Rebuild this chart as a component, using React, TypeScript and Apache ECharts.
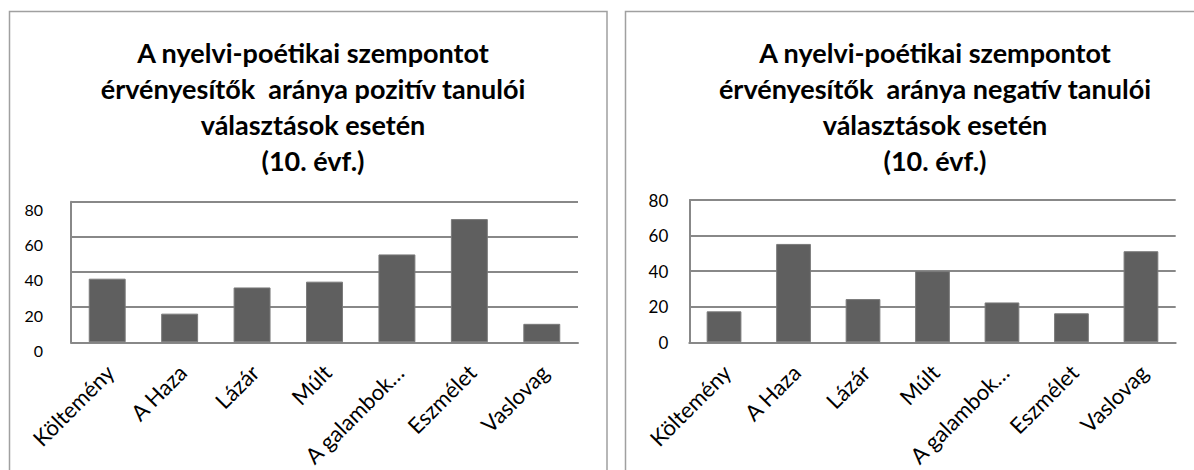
import { useEffect, useRef } from "react";
import * as echarts from "echarts";

const categories = ["Költemény", "A Haza", "Lázár", "Múlt", "A galambok…", "Eszmélet", "Vaslovag"];
const positiveValues = [36.2, 16.3, 31.2, 34.5, 50.0, 70.1, 10.5];
const negativeValues = [17.4, 55.3, 24.3, 40.0, 22.4, 16.3, 51.2];
const yMin = 0;
const yMax = 80;
const yInterval = 20;
const leftTitleLines = [
  "A nyelvi-poétikai szempontot",
  "érvényesítők  aránya pozitív tanulói",
  "választások esetén",
  "(10. évf.)",
];
const rightTitleLines = [
  "A nyelvi-poétikai szempontot",
  "érvényesítők  aránya negatív tanulói",
  "választások esetén",
  "(10. évf.)",
];

const FONT = "Lato";
const GRID_COLOR = "#888888";
const BAR_COLOR = "#5f5f5f";

function makeXAxis(gridIndex: number) {
  return {
    type: "category",
    gridIndex,
    data: categories,
    axisLine: { show: true, lineStyle: { color: GRID_COLOR, width: 2 } },
    axisTick: { show: false },
    axisLabel: {
      interval: 0,
      rotate: 45,
      margin: 29,
      padding: [0, -4, 0, 0],
      color: "#000",
      fontFamily: FONT,
      fontSize: 22,
    },
  };
}

function makeYAxis(gridIndex: number, margin: number, fontSize: number, vAlign: string) {
  return {
    type: "value",
    gridIndex,
    min: yMin,
    max: yMax,
    interval: yInterval,
    axisLine: { show: true, lineStyle: { color: GRID_COLOR, width: 2 } },
    axisTick: { show: false },
    splitLine: { show: true, lineStyle: { color: GRID_COLOR, width: 2 } },
    axisLabel: {
      margin,
      color: "#000",
      fontFamily: FONT,
      fontSize,
      verticalAlign: vAlign,
    },
  };
}

export default function App() {
  const ref = useRef<HTMLDivElement>(null);
  useEffect(() => {
    if (!ref.current) return;
    const chart = echarts.init(ref.current, null, { renderer: "svg" });
    const titleStyle = {
      fontFamily: FONT,
      fontWeight: "bold",
      fontSize: 27,
      lineHeight: 36,
      color: "#000",
    };
    chart.setOption({
      animation: false,
      backgroundColor: "#fff",
      title: [
        {
          text: leftTitleLines.join("\n"),
          left: 308,
          top: 29,
          textAlign: "center",
          textStyle: titleStyle,
        },
        {
          text: rightTitleLines.join("\n"),
          left: 930,
          top: 29,
          textAlign: "center",
          textStyle: titleStyle,
        },
      ],
      graphic: [
        {
          type: "rect",
          shape: { x: 9.5, y: 11.5, width: 597.5, height: 480 },
          style: { fill: "none", stroke: "#a0a0a0", lineWidth: 1.5 },
          z: -1,
        },
        {
          type: "rect",
          shape: { x: 625.5, y: 11.5, width: 620, height: 480 },
          style: { fill: "none", stroke: "#a0a0a0", lineWidth: 1.5 },
          z: -1,
        },
      ],
      grid: [
        { left: 71, top: 201.7, width: 507, height: 142.6 },
        { left: 689.3, top: 200, width: 486.4, height: 142.7 },
      ],
      xAxis: [makeXAxis(0), makeXAxis(1)],
      yAxis: [makeYAxis(0, 28, 16, "top"), makeYAxis(1, 21, 17, "middle")],
      series: [
        {
          type: "bar",
          xAxisIndex: 0,
          yAxisIndex: 0,
          data: positiveValues,
          barCategoryGap: "49%",
          itemStyle: { color: BAR_COLOR, borderColor: "#7a7a7a", borderWidth: 1 },
        },
        {
          type: "bar",
          xAxisIndex: 1,
          yAxisIndex: 1,
          data: negativeValues,
          barCategoryGap: "50%",
          itemStyle: { color: BAR_COLOR, borderColor: "#7a7a7a", borderWidth: 1 },
        },
      ],
    });
    return () => chart.dispose();
  }, []);
  return (
    <div
      ref={ref}
      style={{ position: "absolute", left: 0, top: 0, width: 1194, height: 470 }}
    />
  );
}
